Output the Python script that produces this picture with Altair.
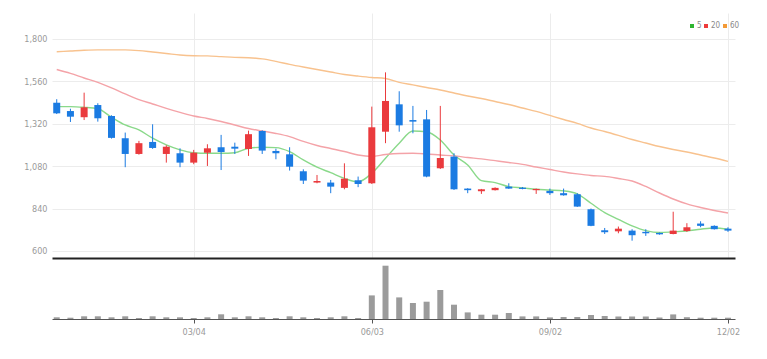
import altair as alt
import pandas as pd

dates = pd.date_range("2023-12-25", periods=50, freq="7D").strftime("%Y-%m-%d").tolist()

opens = [1439, 1392, 1357, 1426, 1364, 1238, 1149, 1217, 1149, 1153,
         1100, 1156, 1187, 1190, 1177, 1279, 1166, 1147, 1051, 987,
         987, 957, 1000, 983, 1275, 1430, 1341, 1345, 1068, 1134,
         953, 938, 944, 964, 958, 944, 940, 927, 921, 836,
         717, 711, 715, 708, 702, 696, 713, 755, 742, 726]
highs = [1459, 1405, 1496, 1436, 1368, 1270, 1223, 1317, 1198, 1181,
         1172, 1204, 1257, 1213, 1281, 1283, 1179, 1187, 1062, 1030,
         1002, 1096, 1021, 1417, 1611, 1504, 1421, 1398, 1421, 1153,
         955, 951, 960, 983, 962, 953, 953, 953, 927, 840,
         730, 738, 723, 723, 704, 822, 757, 768, 745, 734]
lows = [1375, 1330, 1341, 1332, 1236, 1074, 1145, 1178, 1100, 1074,
        1091, 1081, 1058, 1149, 1138, 1149, 1119, 1055, 979, 983,
        927, 949, 961, 979, 1210, 1275, 1266, 1017, 1064, 945,
        927, 923, 942, 951, 949, 923, 917, 913, 849, 740,
        696, 700, 658, 685, 692, 694, 708, 734, 721, 708]
closes = [1379, 1360, 1413, 1351, 1240, 1149, 1210, 1183, 1190, 1100,
          1156, 1181, 1160, 1179, 1261, 1168, 1153, 1077, 998, 996,
          964, 1009, 979, 1300, 1449, 1311, 1332, 1021, 1126, 949,
          944, 949, 957, 953, 951, 951, 927, 915, 851, 742,
          706, 726, 689, 700, 694, 715, 734, 742, 723, 715]
volumes = [17, 13, 27, 27, 17, 27, 10, 27, 17, 17,
           10, 17, 47, 17, 27, 17, 10, 27, 17, 10,
           17, 27, 10, 236, 533, 216, 160, 173, 290, 143,
           66, 43, 43, 60, 26, 26, 16, 20, 20, 40,
           30, 25, 25, 25, 15, 46, 18, 13, 13, 13]
ma5 = [1417, 1417, 1413, 1405, 1357, 1313, 1285, 1238, 1200, 1172,
       1156, 1153, 1153, 1156, 1181, 1187, 1185, 1162, 1115, 1074,
       1043, 1011, 991, 1040, 1125, 1210, 1279, 1275, 1228, 1143,
       1087, 998, 987, 964, 957, 949, 945, 940, 923, 870,
       817, 779, 742, 715, 704, 708, 713, 723, 730, 723]
ma20 = [1627, 1605, 1579, 1554, 1523, 1489, 1457, 1432, 1407, 1384,
        1364, 1350, 1333, 1313, 1293, 1279, 1265, 1247, 1220, 1197,
        1180, 1163, 1143, 1135, 1146, 1152, 1153, 1149, 1143, 1138,
        1129, 1121, 1111, 1101, 1090, 1075, 1061, 1047, 1036, 1027,
        1022, 1010, 996, 965, 928, 894, 866, 846, 829, 815]
ma60 = [1728, 1732, 1736, 1738, 1738, 1738, 1734, 1726, 1718, 1709,
        1705, 1704, 1700, 1696, 1694, 1687, 1673, 1656, 1641, 1627,
        1613, 1599, 1590, 1582, 1576, 1554, 1540, 1525, 1511, 1494,
        1477, 1463, 1446, 1429, 1409, 1390, 1367, 1344, 1322, 1296,
        1276, 1254, 1231, 1211, 1191, 1174, 1160, 1143, 1126, 1107]

ma_names = ["5", "20", "60"]
ma_colors = ["#8ad98a", "#f4a3a8", "#f8c28e"]
legend_colors = ["#2fb52f", "#ee3b3b", "#f39a36"]
tick_dates = ["2024-03-04", "2024-06-03", "2024-09-02", "2024-12-02"]
price_ticks = [600, 840, 1080, 1320, 1560, 1800]

UP, DOWN = "#ea3a3d", "#1b7be2"

df = pd.DataFrame({"date": dates, "open": opens, "high": highs, "low": lows,
                   "close": closes, "volume": volumes})
df["dir"] = ["up" if c >= o else "down" for o, c in zip(opens, closes)]

ma_df = pd.concat([
    pd.DataFrame({"date": dates, "value": vals, "ma": name})
    for name, vals in zip(ma_names, [ma5, ma20, ma60])
])
leg_df = pd.DataFrame({"ma": ma_names})

FONT = "Liberation Sans Narrow, DejaVu Sans Condensed, Roboto, sans-serif"

x_dom = [alt.DateTime(year=2023, month=12, date=22, hours=14, utc=True),
         alt.DateTime(year=2024, month=12, date=5, hours=14, utc=True)]
tick_vals = [alt.DateTime(year=int(d[:4]), month=int(d[5:7]), date=int(d[8:]), utc=True)
             for d in tick_dates]
xscale = alt.Scale(type="utc", domain=x_dom, nice=False, padding=0)

W = 683

x_price = alt.X("date:T", scale=xscale,
                axis=alt.Axis(values=tick_vals, labels=False, ticks=False, title=None,
                              grid=True, gridColor="#ececec", domain=True,
                              domainColor="#222222", domainWidth=2,
                              minExtent=0, maxExtent=0))
y_cfg = dict(scale=alt.Scale(domain=[560, 1947], nice=False, zero=False, padding=0))

base = alt.Chart(df)
dir_color = alt.Color("dir:N", scale=alt.Scale(domain=["up", "down"], range=[UP, DOWN]),
                      legend=None)

wick = base.mark_rule(strokeWidth=1).encode(
    x=x_price,
    y=alt.Y("low:Q", **y_cfg,
            axis=alt.Axis(values=price_ticks, format=",d", title=None, ticks=False,
                          domain=False, gridColor="#ececec", labelColor="#9a9a9a",
                          labelFontSize=9, labelFont=FONT, labelPadding=5,
                          minExtent=39, maxExtent=39)),
    y2="high:Q",
    color=dir_color,
)
body = base.mark_bar(width=7).encode(
    x=alt.X("date:T", scale=xscale),
    y=alt.Y("open:Q", **y_cfg),
    y2="close:Q",
    color=dir_color,
)
lines = alt.Chart(ma_df).mark_line(strokeWidth=1.4, interpolate="monotone").encode(
    x=alt.X("date:T", scale=xscale),
    y=alt.Y("value:Q", **y_cfg),
    color=alt.Color("ma:N", scale=alt.Scale(domain=ma_names, range=ma_colors), legend=None),
    detail="ma:N",
)
legend_layer = alt.Chart(leg_df).mark_square(size=0, opacity=0).encode(
    fill=alt.Fill("ma:N", scale=alt.Scale(domain=ma_names, range=legend_colors),
                  legend=alt.Legend(orient="none", legendX=636, legendY=9,
                                    direction="horizontal", title=None,
                                    symbolType="square", symbolSize=16,
                                    symbolOpacity=1, symbolStrokeWidth=0,
                                    labelFontSize=8, labelFont=FONT,
                                    labelColor="#888888", labelOffset=1,
                                    columnPadding=0, symbolOffset=0, padding=0)),
)

price = alt.layer(lines, wick, body, legend_layer).resolve_scale(
    color="independent", fill="independent").properties(width=W, height=245)

vol = base.mark_bar(width=6, color="#9b9b9b").encode(
    x=alt.X("date:T", scale=xscale,
            axis=alt.Axis(values=tick_vals, format="%m/%d", title=None, grid=False,
                          domainColor="#555555", tickColor="#555555", tickSize=4,
                          labelColor="#9a9a9a", labelFontSize=9, labelFont=FONT,
                          labelPadding=4)),
    y=alt.Y("volume:Q", scale=alt.Scale(domain=[0, 590], nice=False, padding=0),
            axis=alt.Axis(labels=False, ticks=False, domain=False, grid=False, title=None,
                          minExtent=39, maxExtent=39)),
).properties(width=W, height=59)

chart = alt.vconcat(price, vol, spacing=2).properties(
    padding={"left": 5, "top": 5, "right": 5, "bottom": 5}
).configure_view(stroke=None)

chart.save("out.html", embed_options={"renderer": "svg", "actions": False})
